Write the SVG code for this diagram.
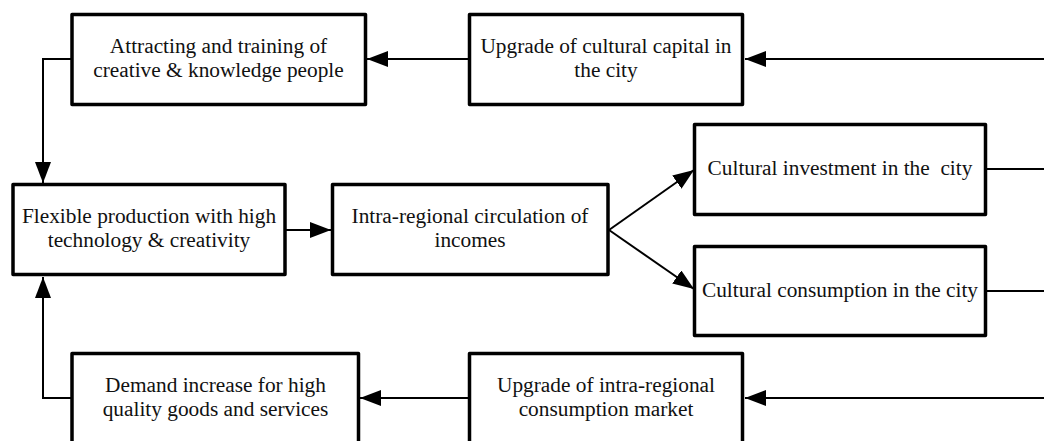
<svg xmlns="http://www.w3.org/2000/svg" width="1044" height="441" viewBox="0 0 1044 441">
<style>
.box{fill:#fff;stroke:#000;stroke-width:3.5;stroke-linejoin:round}
.t{font-family:"Liberation Serif","Times New Roman",serif;font-size:21.33px;fill:#111;text-anchor:middle}
.c{fill:none;stroke:#000;stroke-width:2}
</style>
<defs>
<marker id="ah" markerWidth="22" markerHeight="17" refX="21" refY="8" orient="auto" markerUnits="userSpaceOnUse">
<path d="M0,0 L21,8 L0,16 Z" fill="#000"/>
</marker>
</defs>
<rect width="1044" height="441" fill="#fff"/>
<g id="connectors">
<path class="c" d="M1044,59 L745,59" marker-end="url(#ah)"/>
<path class="c" d="M469,59 L367,59" marker-end="url(#ah)"/>
<path class="c" d="M72,59 L43,59 L43,183" marker-end="url(#ah)"/>
<path class="c" d="M286,230 L331,230" marker-end="url(#ah)"/>
<path class="c" d="M609,230 L694,170" marker-end="url(#ah)"/>
<path class="c" d="M609,230 L694,289" marker-end="url(#ah)"/>
<path class="c" d="M986,169 L1044,169"/>
<path class="c" d="M986,291 L1044,291"/>
<path class="c" d="M1044,398 L745,398" marker-end="url(#ah)"/>
<path class="c" d="M469,398 L360,398" marker-end="url(#ah)"/>
<path class="c" d="M72,398 L43,398 L43,277" marker-end="url(#ah)"/>
</g>
<g id="n1">
<rect class="box" x="72" y="14.5" width="293.5" height="90"/>
<text class="t" x="218.5" y="52.5">Attracting and training of</text>
<text class="t" x="218.5" y="77">creative &amp; knowledge people</text>
</g>
<g id="n2">
<rect class="box" x="469.5" y="14.5" width="273" height="90"/>
<text class="t" x="606" y="52.5">Upgrade of cultural capital in</text>
<text class="t" x="606" y="77">the city</text>
</g>
<g id="n3">
<rect class="box" x="13" y="184.5" width="272" height="90"/>
<text class="t" x="149" y="222.5">Flexible production with high</text>
<text class="t" x="149" y="247">technology &amp; creativity</text>
</g>
<g id="n4">
<rect class="box" x="332.5" y="184.5" width="275.5" height="90"/>
<text class="t" x="470" y="222.5">Intra-regional circulation of</text>
<text class="t" x="470" y="247">incomes</text>
</g>
<g id="n5">
<rect class="box" x="694.5" y="124.5" width="291" height="90"/>
<text class="t" x="840" y="175" style="white-space:pre">Cultural investment in the  city</text>
</g>
<g id="n6">
<rect class="box" x="694.5" y="246.5" width="291" height="89"/>
<text class="t" x="840" y="297">Cultural consumption in the city</text>
</g>
<g id="n7">
<rect class="box" x="72" y="353.5" width="286.5" height="90"/>
<text class="t" x="215.5" y="391.5">Demand increase for high</text>
<text class="t" x="215.5" y="416">quality goods and services</text>
</g>
<g id="n8">
<rect class="box" x="469.5" y="353.5" width="273" height="90"/>
<text class="t" x="606" y="391.5">Upgrade of intra-regional</text>
<text class="t" x="606" y="416">consumption market</text>
</g>
</svg>
